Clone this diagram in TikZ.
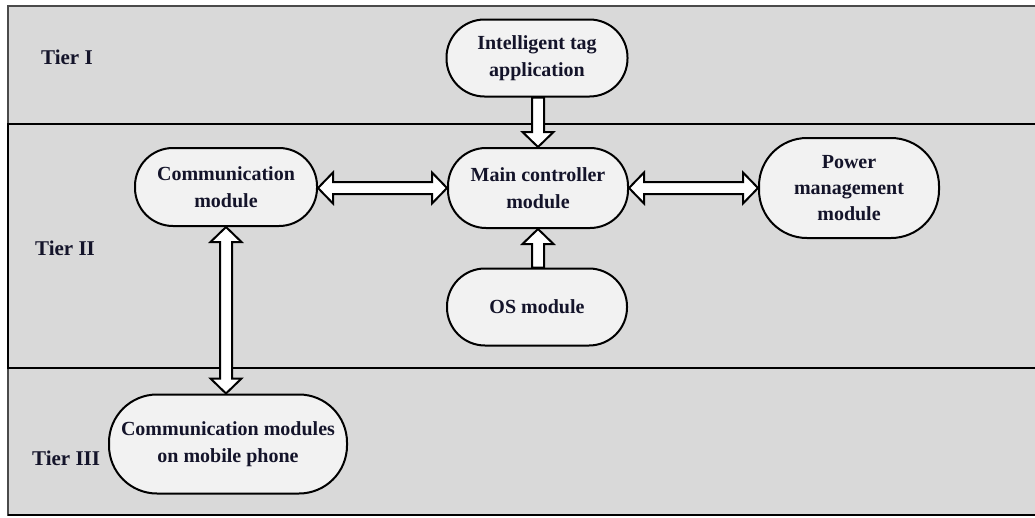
\documentclass[tikz,border=0pt]{standalone}
\usepackage{fontspec}
\setmainfont{Liberation Serif}
\usetikzlibrary{calc}
\definecolor{bandgray}{HTML}{D9D9D9}
\definecolor{boxfill}{HTML}{F2F2F2}
\definecolor{framegray}{HTML}{4A4A4A}
\definecolor{txt}{HTML}{14142A}
\def\aw{6pt}
\def\aH{15.5pt}
\def\ah{15pt}
\tikzset{
  module/.style={draw=black, line width=2pt, fill=boxfill, rounded corners=#1,
    align=center, inner sep=0pt, font=\fontsize{20}{27}\selectfont\bfseries, text=txt},
  module/.default=38pt,
  tierlabel/.style={anchor=west, inner sep=0pt, font=\fontsize{21}{26}\selectfont\bfseries, text=txt},
  hollow/.style={draw=black, line width=2pt, fill=white, line join=miter},
  band/.style={line width=1.6pt}
}
% horizontal double-headed arrow: #1 left end, #2 right end (y of #2)
\newcommand\hdouble[2]{%
  \draw[hollow] let \p1=(#1), \p2=(#2) in
    (\x1,\y2) -- (\x1+\ah,\y2+\aH) -- (\x1+\ah,\y2+\aw) -- (\x2-\ah,\y2+\aw)
    -- (\x2-\ah,\y2+\aH) -- (\x2,\y2) -- (\x2-\ah,\y2-\aH) -- (\x2-\ah,\y2-\aw)
    -- (\x1+\ah,\y2-\aw) -- (\x1+\ah,\y2-\aH) -- cycle;}
% vertical double-headed arrow: #1 top end, #2 bottom end (x of #1)
\newcommand\vdouble[2]{%
  \draw[hollow] let \p1=(#1), \p2=(#2) in
    (\x1,\y1) -- (\x1+\aH,\y1-\ah) -- (\x1+\aw,\y1-\ah) -- (\x1+\aw,\y2+\ah)
    -- (\x1+\aH,\y2+\ah) -- (\x1,\y2) -- (\x1-\aH,\y2+\ah) -- (\x1-\aw,\y2+\ah)
    -- (\x1-\aw,\y1-\ah) -- (\x1-\aH,\y1-\ah) -- cycle;}
% vertical single arrow from #1 (tail) to #2 (tip); #3 = +1 if pointing down, -1 if up
\newcommand\vsingle[3]{%
  \draw[hollow] let \p1=(#1), \p2=(#2) in
    (\x2,\y2) -- (\x2+\aH,\y2+#3*\ah) -- (\x2+\aw,\y2+#3*\ah) -- (\x2+\aw,\y1)
    -- (\x2-\aw,\y1) -- (\x2-\aw,\y2+#3*\ah) -- (\x2-\aH,\y2+#3*\ah) -- cycle;}
\begin{document}
\begin{tikzpicture}[x=1pt,y=-1pt]
\useasboundingbox (0,0) rectangle (1035,517);
% bands
\draw[band, draw=framegray, fill=bandgray] (8,6) rectangle (1045,515);
\draw[band, draw=black] (8,515) -- (1045,515);
\draw[band, draw=black] (8,124) rectangle (1045,368);
% tier labels
\node[tierlabel] (t1) at (41,57) {Tier I};
\node[tierlabel] (t2) at (35,248) {Tier II};
\node[tierlabel] (t3) at (32,458) {Tier III};
% modules
\node[module, minimum width=181pt, minimum height=77pt] (tag) at (537,58) {Intelligent tag\\application};
\node[module, minimum width=180pt, minimum height=80pt] (main) at (538,188) {Main controller\\module};
\node[module, minimum width=180pt, minimum height=77pt] (os) at (537,307) {OS module};
\node[module=48pt, minimum width=180pt, minimum height=100pt, font=\fontsize{20}{26}\selectfont\bfseries] (power) at (849,188) {Power\\management\\module};
\node[module, minimum width=182pt, minimum height=78pt] (comm) at (226,187) {Communication\\module};
\node[module=48pt, minimum width=238pt, minimum height=99pt] (mobile) at (228,444) {Communication modules\\on mobile phone};
% connectors
\vsingle{tag.south}{main.north}{1}
\vsingle{os.north}{main.south}{-1}
\hdouble{comm.east}{main.west}
\hdouble{main.east}{power.west}
\vdouble{comm.south}{mobile.north}
\end{tikzpicture}
\end{document}
